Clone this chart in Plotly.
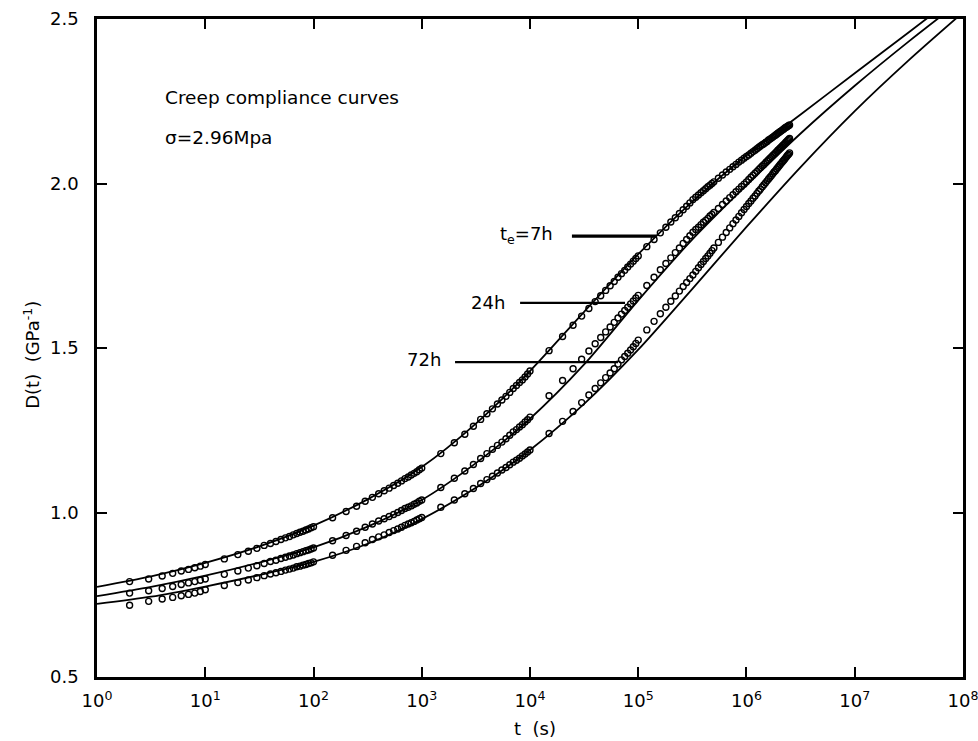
import math
import plotly.graph_objects as go

# ---- measurement times (s) ----
t_obs = [
    2, 3, 4, 5, 6, 7, 8, 9, 10,
    15, 20, 25, 30, 35, 40, 45, 50, 55, 60, 65, 70, 75, 80, 85, 90, 95, 100,
    150, 200, 250, 300, 350, 400, 450, 500, 550, 600, 650, 700, 750, 800, 850, 900, 950, 1000,
    1500, 2000, 2500, 3000, 3500, 4000, 4500, 5000, 5500, 6000, 6500, 7000, 7500, 8000, 8500, 9000, 9500, 10000,
    15000, 20000, 25000, 30000, 35000, 40000, 45000, 50000, 55000, 60000, 65000, 70000, 75000, 80000, 85000,
    90000, 95000, 100000,
    120000, 140000, 160000, 180000, 200000, 220000, 240000, 260000, 280000, 300000,
    320000, 340000, 360000, 380000, 400000, 420000, 440000, 460000, 480000, 500000,
    550000, 600000, 650000, 700000, 750000, 800000, 850000, 900000, 950000, 1000000,
    1050000, 1100000, 1150000, 1200000, 1250000, 1300000, 1350000, 1400000, 1450000, 1500000,
    1550000, 1600000, 1650000, 1700000, 1750000, 1800000, 1850000, 1900000, 1950000, 2000000,
    2050000, 2100000, 2150000, 2200000, 2250000, 2300000, 2350000, 2400000, 2450000, 2500000,
]

# ---- measured creep compliance D(t) (GPa^-1) ----
d_7h = [
    0.790, 0.798, 0.807, 0.815, 0.822, 0.827, 0.832, 0.837, 0.842,
    0.859, 0.872, 0.882, 0.891, 0.900, 0.906, 0.912, 0.918, 0.923, 0.927, 0.932, 0.936, 0.940, 0.943, 0.947, 0.950, 0.954, 0.957,
    0.984, 1.003, 1.019, 1.034, 1.046, 1.057, 1.066, 1.074, 1.082, 1.089, 1.096, 1.103, 1.108, 1.114, 1.119, 1.124, 1.130, 1.135,
    1.179, 1.212, 1.238, 1.262, 1.283, 1.300, 1.315, 1.330, 1.342, 1.353, 1.365, 1.377, 1.386, 1.395, 1.403, 1.412, 1.421, 1.430,
    1.492, 1.535, 1.569, 1.597, 1.620, 1.641, 1.659, 1.675, 1.689, 1.702, 1.715, 1.726, 1.736, 1.746, 1.755, 1.764, 1.772, 1.780,
    1.808, 1.830, 1.850, 1.867, 1.883, 1.896, 1.909, 1.920, 1.931, 1.941,
    1.951, 1.958, 1.965, 1.972, 1.978, 1.984, 1.990, 1.995, 2.000, 2.005,
    2.016, 2.026, 2.035, 2.043, 2.051, 2.058, 2.065, 2.071, 2.077, 2.082,
    2.087, 2.092, 2.097, 2.101, 2.106, 2.110, 2.114, 2.118, 2.121, 2.125,
    2.128, 2.132, 2.135, 2.138, 2.141, 2.144, 2.147, 2.150, 2.153, 2.155,
    2.158, 2.160, 2.163, 2.165, 2.168, 2.170, 2.172, 2.174, 2.176, 2.178,
]
d_24h = [
    0.755, 0.762, 0.769, 0.775, 0.781, 0.786, 0.790, 0.794, 0.798,
    0.812, 0.822, 0.831, 0.838, 0.845, 0.851, 0.855, 0.860, 0.864, 0.868, 0.871, 0.875, 0.878, 0.881, 0.884, 0.886, 0.889, 0.892,
    0.914, 0.930, 0.943, 0.955, 0.965, 0.974, 0.981, 0.988, 0.994, 1.000, 1.006, 1.012, 1.016, 1.020, 1.025, 1.029, 1.034, 1.038,
    1.076, 1.104, 1.126, 1.146, 1.164, 1.179, 1.192, 1.204, 1.214, 1.224, 1.235, 1.245, 1.252, 1.260, 1.267, 1.275, 1.282, 1.290,
    1.355, 1.401, 1.437, 1.466, 1.491, 1.513, 1.532, 1.549, 1.564, 1.578, 1.591, 1.603, 1.614, 1.624, 1.634, 1.643, 1.652, 1.660,
    1.690, 1.715, 1.738, 1.757, 1.774, 1.790, 1.804, 1.818, 1.830, 1.841,
    1.852, 1.860, 1.867, 1.875, 1.882, 1.888, 1.894, 1.901, 1.906, 1.912,
    1.924, 1.936, 1.947, 1.957, 1.966, 1.975, 1.983, 1.991, 1.998, 2.005,
    2.012, 2.019, 2.025, 2.031, 2.037, 2.043, 2.048, 2.053, 2.058, 2.063,
    2.068, 2.072, 2.077, 2.081, 2.085, 2.089, 2.093, 2.097, 2.101, 2.104,
    2.108, 2.111, 2.115, 2.118, 2.121, 2.125, 2.128, 2.131, 2.134, 2.137,
]
d_72h = [
    0.718, 0.730, 0.737, 0.742, 0.747, 0.751, 0.755, 0.760, 0.765,
    0.778, 0.787, 0.795, 0.802, 0.808, 0.813, 0.817, 0.821, 0.825, 0.828, 0.831, 0.835, 0.837, 0.840, 0.842, 0.845, 0.847, 0.850,
    0.870, 0.885, 0.897, 0.908, 0.918, 0.926, 0.932, 0.939, 0.945, 0.950, 0.955, 0.961, 0.965, 0.969, 0.973, 0.977, 0.981, 0.985,
    1.016, 1.038, 1.057, 1.073, 1.088, 1.100, 1.110, 1.120, 1.129, 1.137, 1.145, 1.153, 1.159, 1.165, 1.172, 1.178, 1.184, 1.190,
    1.240, 1.277, 1.307, 1.334, 1.357, 1.377, 1.394, 1.410, 1.424, 1.437, 1.451, 1.464, 1.474, 1.484, 1.494, 1.504, 1.514, 1.524,
    1.555, 1.581, 1.604, 1.624, 1.642, 1.658, 1.673, 1.687, 1.699, 1.711,
    1.722, 1.733, 1.744, 1.754, 1.763, 1.772, 1.780, 1.788, 1.796, 1.804,
    1.821, 1.837, 1.851, 1.865, 1.878, 1.889, 1.900, 1.911, 1.921, 1.930,
    1.939, 1.947, 1.955, 1.962, 1.970, 1.977, 1.983, 1.990, 1.996, 2.002,
    2.008, 2.014, 2.019, 2.024, 2.030, 2.035, 2.039, 2.044, 2.049, 2.053,
    2.058, 2.062, 2.066, 2.070, 2.074, 2.078, 2.082, 2.086, 2.089, 2.093,
]

# ---- fitted model curves (half-decade knots) ----
t_fit = [1, 3.162, 10, 31.62, 100, 316.2, 1e3, 3162, 1e4, 3.162e4, 1e5, 3.162e5,
         1e6, 3.162e6, 1e7, 3.162e7, 1e8]
fit_7h = [0.774, 0.806, 0.847, 0.897, 0.960, 1.040, 1.138, 1.270, 1.430, 1.610, 1.785,
          1.945, 2.085, 2.210, 2.335, 2.460, 2.585]
fit_24h = [0.746, 0.774, 0.808, 0.848, 0.894, 0.957, 1.038, 1.150, 1.285, 1.450, 1.645,
           1.830, 1.995, 2.152, 2.297, 2.432, 2.560]
fit_72h = [0.722, 0.744, 0.775, 0.810, 0.850, 0.905, 0.980, 1.075, 1.190, 1.330, 1.495,
           1.680, 1.868, 2.050, 2.220, 2.375, 2.520]

# ---- curve labels: text, leader-line start/end time, compliance level ----
label_text = ["t<sub>e</sub>=7h", "24h", "72h"]
label_t0 = [2.44e4, 8.1e3, 2.03e3]
label_t1 = [1.49e5, 7.55e4, 6.5e4]
label_d = [1.840, 1.637, 1.457]

x_ticks = [10 ** k for k in range(9)]
x_ticktext = [f"10<sup>{k}</sup>" for k in range(9)]
y_ticks = [0.5, 1.0, 1.5, 2.0, 2.5]
y_ticktext = ["0.5", "1.0", "1.5", "2.0", "2.5"]

FONT = "DejaVu Sans"
fig = go.Figure()

for d in (d_7h, d_24h, d_72h):
    fig.add_trace(go.Scatter(
        x=t_obs, y=d, mode="markers",
        marker=dict(symbol="circle-open", size=6, color="black", line=dict(width=1.4)),
        showlegend=False, hoverinfo="skip"))

for f in (fit_7h, fit_24h, fit_72h):
    fig.add_trace(go.Scatter(
        x=t_fit, y=f, mode="lines",
        line=dict(color="black", width=1.8, shape="spline", smoothing=0.8),
        showlegend=False, hoverinfo="skip"))

# leader lines from each label to its data set
widths = [3.2, 2.2, 2.2]
for t0, t1, dv, w in zip(label_t0, label_t1, label_d, widths):
    fig.add_trace(go.Scatter(
        x=[t0, t1], y=[dv, dv], mode="lines",
        line=dict(color="black", width=w), showlegend=False, hoverinfo="skip"))

# label text, just left of each leader line (annotation x in log10 units)
label_gap = [0.16, 0.12, 0.11]
label_yshift = [1, 0, 3]
for txt, t0, dv, g, ys in zip(label_text, label_t0, label_d, label_gap, label_yshift):
    fig.add_annotation(x=math.log10(t0) - g, y=dv, xref="x", yref="y",
                       text=txt, showarrow=False, xanchor="right", yanchor="middle",
                       yshift=ys, font=dict(family=FONT, size=18, color="black"))

fig.add_annotation(x=0.61, y=2.26, xref="x", yref="y", text="Creep compliance curves",
                   showarrow=False, xanchor="left", yanchor="middle",
                   font=dict(family=FONT, size=18.5, color="black"))
fig.add_annotation(x=0.61, y=2.141, xref="x", yref="y", text="\u03c3=2.96Mpa",
                   showarrow=False, xanchor="left", yanchor="middle",
                   font=dict(family=FONT, size=18.5, color="black"))

# axis titles
fig.add_annotation(x=0.506, y=-0.078, xref="paper", yref="paper",
                   text="t\u00a0\u00a0(s)", showarrow=False,
                   xanchor="center", yanchor="middle",
                   font=dict(family=FONT, size=18, color="black"))
fig.add_annotation(x=-0.076, y=0.49, xref="paper", yref="paper",
                   text="D(t)\u00a0\u00a0(GPa<sup>-1</sup>)", showarrow=False, textangle=-90,
                   xanchor="center", yanchor="middle",
                   font=dict(family=FONT, size=18, color="black"))

axis_common = dict(
    showline=True, linecolor="black", linewidth=2.5, mirror="ticks",
    ticks="inside", ticklen=10, tickwidth=2, tickcolor="black",
    showgrid=False, zeroline=False, automargin=False,
    tickfont=dict(family=FONT, size=18, color="black"),
)

fig.update_layout(
    width=978, height=741,
    margin=dict(l=97, r=15, t=19, b=64),
    paper_bgcolor="white", plot_bgcolor="white",
    xaxis=dict(type="log", range=[-0.0002, 8.0002], tickmode="array",
               tickvals=x_ticks, ticktext=x_ticktext, ticklabelstandoff=6,
               ticklabeloverflow="allow", **axis_common),
    yaxis=dict(range=[0.5, 2.5], tickmode="array",
               tickvals=y_ticks, ticktext=y_ticktext, ticklabelstandoff=12, **axis_common),
)

fig.write_html("out.html")
